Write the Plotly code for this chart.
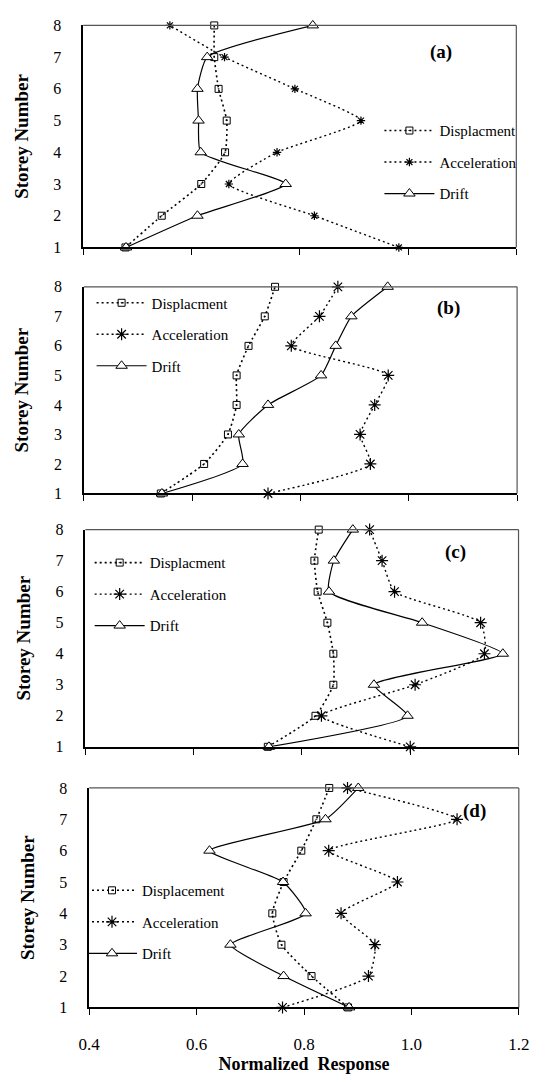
import plotly.graph_objects as go

W, H = 542, 1074
storey = [1, 2, 3, 4, 5, 6, 7, 8]

# (a)
a_disp = [0.478, 0.545, 0.618, 0.662, 0.665, 0.650, 0.642, 0.642]
a_acc = [0.983, 0.827, 0.669, 0.758, 0.913, 0.791, 0.661, 0.560]
a_drift = [0.479, 0.611, 0.774, 0.617, 0.613, 0.611, 0.629, 0.824]
# (b)
b_disp = [0.542, 0.622, 0.666, 0.682, 0.682, 0.704, 0.734, 0.753]
b_acc = [0.740, 0.929, 0.910, 0.937, 0.962, 0.783, 0.835, 0.869]
b_drift = [0.544, 0.693, 0.686, 0.740, 0.838, 0.865, 0.894, 0.961]
# (c)
c_disp = [0.737, 0.825, 0.858, 0.858, 0.847, 0.829, 0.823, 0.831]
c_acc = [1.000, 0.836, 1.009, 1.137, 1.130, 0.971, 0.948, 0.925]
c_drift = [0.739, 0.995, 0.933, 1.171, 1.022, 0.850, 0.859, 0.894]
# (d)
d_disp = [0.882, 0.814, 0.758, 0.741, 0.762, 0.795, 0.823, 0.847]
d_acc = [0.760, 0.920, 0.932, 0.869, 0.974, 0.846, 1.085, 0.881]
d_drift = [0.884, 0.762, 0.663, 0.803, 0.761, 0.624, 0.840, 0.901]

disp_names = ["Displacment", "Displacment", "Displacment", "Displacement"]
panel_labels = ["(a)", "(b)", "(c)", "(d)"]
x_ticks = [0.4, 0.6, 0.8, 1.0, 1.2]
x_ticktext = ["0.4", "0.6", "0.8", "1.0", "1.2"]

panels = [
    (a_disp, a_acc, a_drift),
    (b_disp, b_acc, b_drift),
    (c_disp, c_acc, c_drift),
    (d_disp, d_acc, d_drift),
]

# pixel layout (left, right, top, bottom)
boxes = [
    (75.3, 526.7, 17.7, 243.3),
    (76.0, 527.5, 283.3, 493.3),
    (77.5, 529.0, 530.0, 750.7),
    (81.5, 529.3, 792.5, 1015.5),
]
# legend: left x of legend box, first row centre y
leg_pos = [(384, 126), (84, 301), (82, 565), (74, 898)]
lab_pos = [(448, 45), (456, 305), (463, 553), (483, 816)]
acc_size = [7, 10, 10, 10]

FONT = "Liberation Serif, Times New Roman, DejaVu Serif, serif"
fig = go.Figure()

for i, (disp, acc, drift) in enumerate(panels):
    n = "" if i == 0 else str(i + 1)
    xa, ya = "x" + n, "y" + n
    lg = "legend" + n
    fig.add_trace(go.Scatter(
        x=disp, y=storey, name=disp_names[i], mode="lines+markers",
        line=dict(color="black", width=1.6, dash="2px,3px", shape="spline", smoothing=0.5),
        marker=dict(symbol="square-open-dot", size=7, color="black", line=dict(width=1)),
        xaxis=xa, yaxis=ya, legend=lg, legendgroup="d" + n, cliponaxis=False))
    fig.add_trace(go.Scatter(
        x=acc, y=storey, name="Acceleration", mode="lines+markers",
        line=dict(color="black", width=1.4, dash="2px,3px", shape="spline", smoothing=0.5),
        marker=dict(symbol="asterisk-open", size=acc_size[i], color="black", line=dict(width=1.2)),
        xaxis=xa, yaxis=ya, legend=lg, legendgroup="a" + n, cliponaxis=False))
    fig.add_trace(go.Scatter(
        x=drift, y=storey, name="Drift", mode="lines+markers",
        line=dict(color="black", width=1.2, shape="spline", smoothing=0.5),
        marker=dict(symbol="triangle-up", size=10, color="white", line=dict(width=1, color="black")),
        xaxis=xa, yaxis=ya, legend=lg, legendgroup="r" + n, cliponaxis=False))

layout = dict(
    width=W, height=H, margin=dict(l=0, r=0, t=0, b=0),
    paper_bgcolor="white", plot_bgcolor="white",
    font=dict(family=FONT, color="black"),
    showlegend=True,
)
annotations = []
shapes = []
for i, (l, r, t, b) in enumerate(boxes):
    n = "" if i == 0 else str(i + 1)
    last = i == 3
    layout["xaxis" + n] = dict(
        domain=[l / W, r / W], anchor="y" + n, range=[0.4, 1.2],
        tickvals=x_ticks, ticktext=x_ticktext,
        showticklabels=last, ticks="outside", ticklen=6, tickwidth=1, tickcolor="black",
        showline=True, linecolor="black", linewidth=1.5, showgrid=False, zeroline=False,
        tickfont=dict(family=FONT, size=17), ticklabelstandoff=14,
        title=dict(text="<b>Normalized  Response</b>" if last else "",
                   font=dict(family=FONT, size=18), standoff=3),
    )
    layout["yaxis" + n] = dict(
        domain=[1 - b / H, 1 - t / H], anchor="x" + n, range=[1, 8],
        tickvals=storey, ticks="", showline=True, linecolor="black", linewidth=1.5,
        showgrid=False, zeroline=False, tickfont=dict(family=FONT, size=16),
        ticklabelstandoff=17,
        title=dict(text="<b>Storey Number</b>", font=dict(family=FONT, size=19), standoff=20),
    )
    lx, ly = leg_pos[i]
    layout["legend" + n] = dict(
        x=lx / W, y=1 - (ly - 18) / H, xanchor="left", yanchor="top",
        bgcolor="rgba(0,0,0,0)", borderwidth=0, traceorder="grouped", tracegroupgap=9,
        font=dict(family=FONT, size=15), itemwidth=50,
    )
    px, py = lab_pos[i]
    annotations.append(dict(text="<b>" + panel_labels[i] + "</b>", x=px / W, y=1 - py / H,
                            xref="paper", yref="paper", xanchor="center", yanchor="middle",
                            showarrow=False, font=dict(family=FONT, size=19)))
    # top and right frame edges (grey, thinner)
    shapes.append(dict(type="line", xref="x" + n + " domain", yref="y" + n + " domain",
                       x0=0, x1=1, y0=1, y1=1, line=dict(color="#555", width=1.2)))
    shapes.append(dict(type="line", xref="x" + n + " domain", yref="y" + n + " domain",
                       x0=1, x1=1, y0=0, y1=1, line=dict(color="#555", width=1.2)))

layout["annotations"] = annotations
layout["shapes"] = shapes
fig.update_layout(**layout)
fig.write_html("out.html")
